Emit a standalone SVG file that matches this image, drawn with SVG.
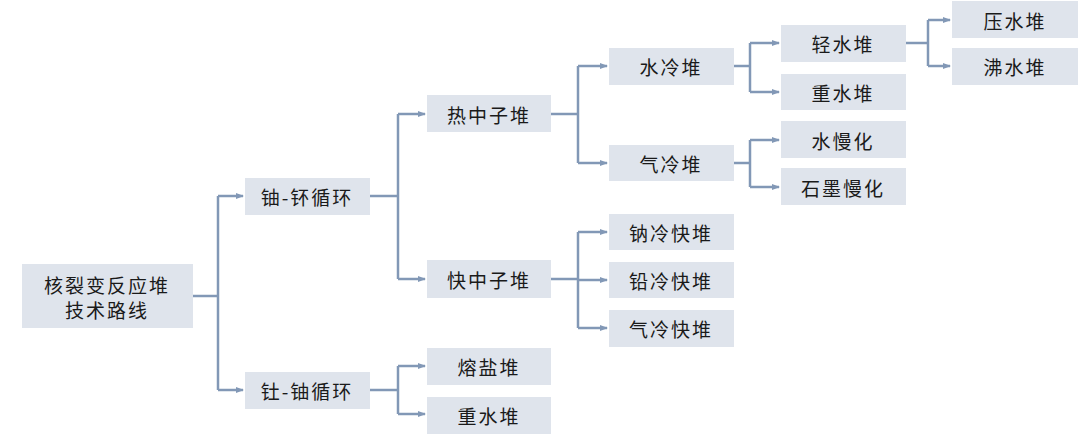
<svg xmlns="http://www.w3.org/2000/svg" width="1080" height="436" viewBox="0 0 1080 436">
<style>
.n rect{fill:#dfe4ec}
.n text{font-family:"Noto Sans CJK SC","Noto Sans",sans-serif;font-size:19px;fill:#1a1a1a;text-anchor:middle;dominant-baseline:central;letter-spacing:2px}
#c path{fill:none;stroke:#8298b6;stroke-width:2.5}
</style>
<defs><marker id="a" markerWidth="8" markerHeight="8" refX="7" refY="4" orient="auto" markerUnits="userSpaceOnUse"><path d="M0,1 L8,4 L0,7 Z" fill="#8298b6"/></marker></defs>
<rect width="1080" height="436" fill="#fff"/>
<g id="c">
<path d="M193,296 H218"/><path d="M218,196 V390"/>
<path d="M218,196 H243" marker-end="url(#a)"/><path d="M218,390 H243" marker-end="url(#a)"/>
<path d="M370,196 H398"/><path d="M398,114 V279"/>
<path d="M398,114 H425" marker-end="url(#a)"/><path d="M398,279 H425" marker-end="url(#a)"/>
<path d="M370,390 H398"/><path d="M398,366 V414"/>
<path d="M398,366 H425" marker-end="url(#a)"/><path d="M398,414 H425" marker-end="url(#a)"/>
<path d="M551,114 H578"/><path d="M578,66 V163"/>
<path d="M578,66 H607" marker-end="url(#a)"/><path d="M578,163 H607" marker-end="url(#a)"/>
<path d="M551,279 H578"/><path d="M578,232 V328"/>
<path d="M578,232 H607" marker-end="url(#a)"/><path d="M578,280 H607" marker-end="url(#a)"/><path d="M578,328 H607" marker-end="url(#a)"/>
<path d="M734,66 H750"/><path d="M750,43 V92"/>
<path d="M750,43 H779" marker-end="url(#a)"/><path d="M750,92 H779" marker-end="url(#a)"/>
<path d="M734,163 H750"/><path d="M750,140 V187"/>
<path d="M750,140 H779" marker-end="url(#a)"/><path d="M750,187 H779" marker-end="url(#a)"/>
<path d="M906,43 H928"/><path d="M928,20 V66"/>
<path d="M928,20 H950" marker-end="url(#a)"/><path d="M928,66 H950" marker-end="url(#a)"/>
</g>
<g id="root" class="n"><rect x="22" y="264" width="171" height="64"/><text x="107" y="284">核裂变反应堆</text><text x="107" y="309">技术路线</text></g>
<g id="upu" class="n"><rect x="245" y="178" width="125" height="37"/><text x="307" y="196">铀-钚循环</text></g>
<g id="thu" class="n"><rect x="245" y="372" width="125" height="37"/><text x="307" y="390">钍-铀循环</text></g>
<g id="thermal" class="n"><rect x="427" y="95" width="124" height="37"/><text x="489" y="114">热中子堆</text></g>
<g id="fast" class="n"><rect x="427" y="260" width="124" height="38"/><text x="489" y="279">快中子堆</text></g>
<g id="msr" class="n"><rect x="427" y="348" width="124" height="37"/><text x="489" y="366">熔盐堆</text></g>
<g id="hwr2" class="n"><rect x="427" y="397" width="124" height="37"/><text x="489" y="415">重水堆</text></g>
<g id="wc" class="n"><rect x="609" y="48" width="125" height="37"/><text x="671" y="66">水冷堆</text></g>
<g id="gc" class="n"><rect x="609" y="145" width="125" height="36"/><text x="671" y="163">气冷堆</text></g>
<g id="na" class="n"><rect x="609" y="214" width="125" height="36"/><text x="671" y="232">钠冷快堆</text></g>
<g id="pb" class="n"><rect x="609" y="262" width="125" height="36"/><text x="671" y="280">铅冷快堆</text></g>
<g id="gf" class="n"><rect x="609" y="310" width="125" height="37"/><text x="671" y="328">气冷快堆</text></g>
<g id="lwr" class="n"><rect x="781" y="25" width="125" height="37"/><text x="843" y="43">轻水堆</text></g>
<g id="hwr" class="n"><rect x="781" y="74" width="125" height="36"/><text x="843" y="92">重水堆</text></g>
<g id="wm" class="n"><rect x="781" y="121" width="125" height="37"/><text x="843" y="140">水慢化</text></g>
<g id="gm" class="n"><rect x="781" y="168" width="125" height="37"/><text x="843" y="187">石墨慢化</text></g>
<g id="pwr" class="n"><rect x="952" y="1" width="126" height="37"/><text x="1015" y="20">压水堆</text></g>
<g id="bwr" class="n"><rect x="952" y="48" width="126" height="37"/><text x="1015" y="66">沸水堆</text></g>
</svg>
